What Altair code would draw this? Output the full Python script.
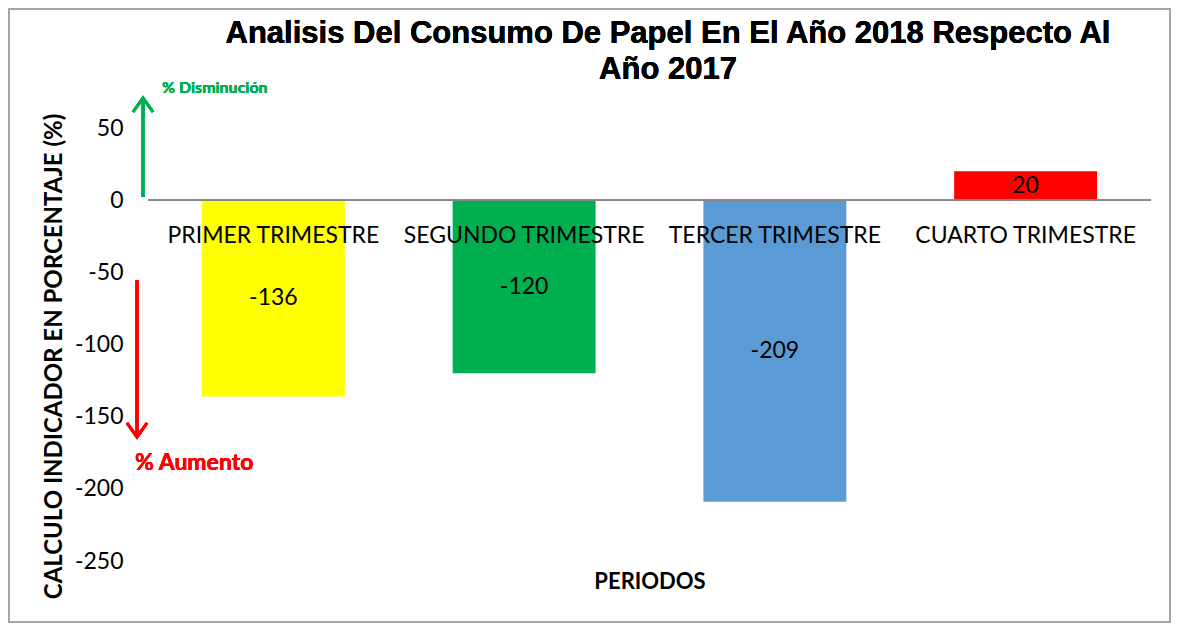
import altair as alt
import pandas as pd

periodos = ["PRIMER TRIMESTRE", "SEGUNDO TRIMESTRE", "TERCER TRIMESTRE", "CUARTO TRIMESTRE"]
valores = [-136, -120, -209, 20]
colores = ["#FFFF00", "#00B050", "#5B9BD5", "#FF0000"]
y_ticks = [50, 0, -50, -100, -150, -200, -250]

titulo = ["Analisis Del Consumo De Papel En El Año 2018 Respecto Al", "Año 2017"]
y_titulo = "CALCULO INDICADOR EN PORCENTAJE (%)"
x_titulo = "PERIODOS"

df = pd.DataFrame({"periodo": periodos, "valor": valores, "color": colores})

W, H = 1003, 433
PL, PT = 140, 120
TOTAL_W, TOTAL_H = 1163, 615
LABEL_FONT = "Lato"

base = alt.Chart(df)

x_enc = alt.X(
    "periodo:N",
    sort=periodos,
    scale=alt.Scale(paddingInner=0.43, paddingOuter=0.215),
    axis=alt.Axis(
        labels=False, ticks=False, domain=False, grid=False,
        title=x_titulo, titleFont=LABEL_FONT, titleFontSize=22,
        titleFontWeight="bold", titleColor="#000000", titlePadding=10,
    ),
)
y_scale = alt.Scale(domain=[-250, 50], nice=False, zero=False)
y_enc = alt.Y(
    "valor:Q",
    scale=y_scale,
    axis=alt.Axis(
        values=y_ticks, grid=False, domain=False, ticks=False,
        labelExpr="'' + datum.value",
        labelPadding=25, labelFont=LABEL_FONT, labelFontSize=23, labelColor="#000000",
        title=y_titulo, titleFont=LABEL_FONT, titleFontSize=24, titleFontWeight="bold",
        titleColor="#000000", titlePadding=8, titleY=228,
    ),
)

bars = base.mark_bar().encode(
    x=x_enc,
    y=y_enc,
    color=alt.Color("color:N", scale=None),
)

baseline = base.mark_rule(color="#868686", strokeWidth=1.2).encode(y=alt.datum(0))

value_labels = base.transform_calculate(
    mid="datum.valor / 2", etiqueta="'' + datum.valor"
).mark_text(
    font=LABEL_FONT, fontSize=23, color="#000000", baseline="middle"
).encode(
    x=alt.X("periodo:N", sort=periodos),
    y=alt.Y("mid:Q", scale=y_scale),
    text=alt.Text("etiqueta:N"),
)

cat_labels = base.mark_text(
    font=LABEL_FONT, fontSize=23, color="#000000", baseline="middle", dy=36
).encode(
    x=alt.X("periodo:N", sort=periodos),
    y=alt.datum(0),
    text="periodo:N",
)

# annotation arrows
green = "#00B050"
red = "#FF0000"
g_shaft = base.mark_rule(color=green, strokeWidth=3).encode(
    x=alt.value(-5), y=alt.value(69), y2=alt.value(-29)
)
g_head = base.mark_point(
    shape="M-1,1.4L0,0L1,1.4", size=400, filled=False, color=green,
    strokeWidth=3, opacity=1
).encode(x=alt.value(-5), y=alt.value(-30))
r_shaft = base.mark_rule(color=red, strokeWidth=3).encode(
    x=alt.value(-11), y=alt.value(152), y2=alt.value(308)
)
r_head = base.mark_point(
    shape="M-1,-1.4L0,0L1,-1.4", size=400, filled=False, color=red,
    strokeWidth=3, opacity=1
).encode(x=alt.value(-11), y=alt.value(309))

g_text = base.mark_text(
    text="% Disminución", font=LABEL_FONT, fontSize=16, fontWeight="bold",
    color=green, align="left", baseline="middle"
).encode(x=alt.value(14), y=alt.value(-40))
r_text = base.mark_text(
    text="% Aumento", font=LABEL_FONT, fontSize=23, fontWeight="bold",
    color=red, align="left", baseline="middle"
).encode(x=alt.value(-13), y=alt.value(335))

title_text = base.mark_text(
    text=titulo, font="Liberation Sans", fontSize=31, fontWeight="bold",
    color="#000000", lineHeight=36, align="center", baseline="alphabetic"
).encode(x=alt.value(520), y=alt.value(-85))

border = base.mark_rect(filled=False, stroke="#A6A6A6", strokeWidth=2).encode(
    x=alt.value(-PL + 1), x2=alt.value(TOTAL_W - PL - 1),
    y=alt.value(-PT + 1), y2=alt.value(TOTAL_H - PT - 1),
)

chart = alt.layer(
    border, bars, baseline, value_labels, cat_labels,
    g_shaft, g_head, r_shaft, r_head, g_text, r_text, title_text,
).properties(
    width=W,
    height=H,
    background="white",
    autosize=alt.AutoSizeParams(type="none"),
    padding={"left": PL, "top": PT, "right": TOTAL_W - PL - W, "bottom": TOTAL_H - PT - H},
).configure_view(stroke="transparent", strokeWidth=0)

chart.save("out.html", embed_options={"renderer": "svg", "actions": False})
